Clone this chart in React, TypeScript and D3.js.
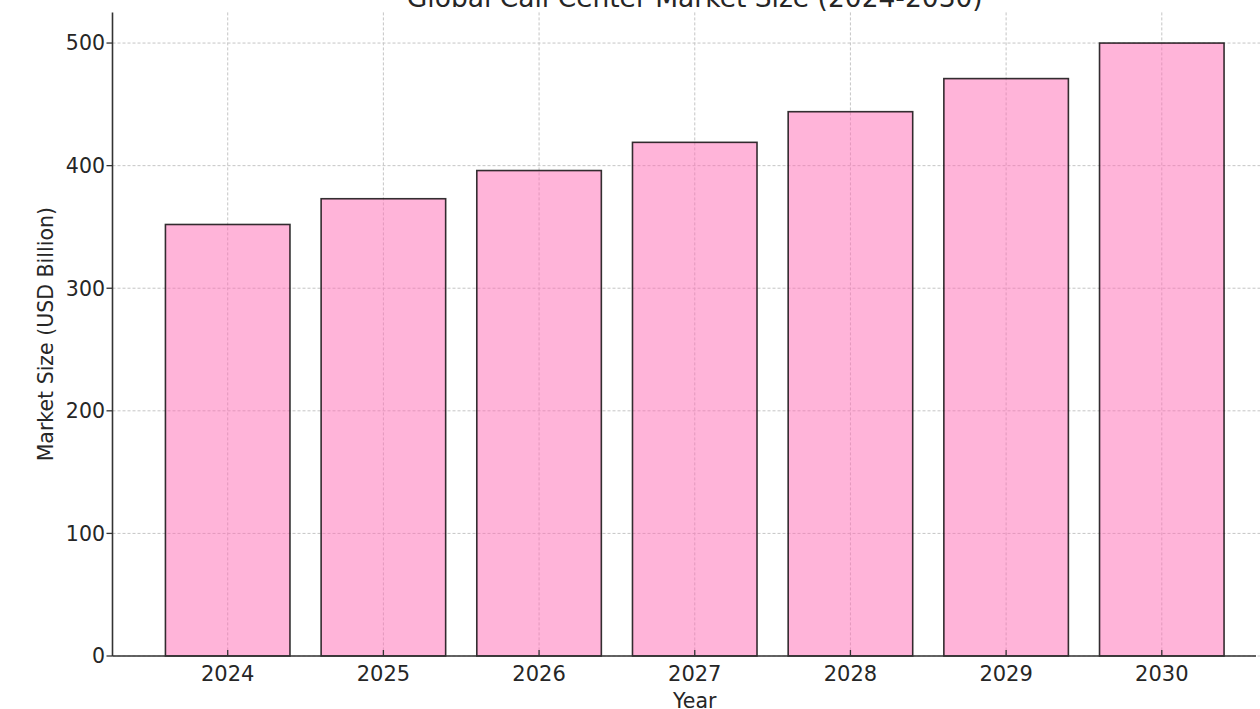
import React from "react";
import * as d3 from "d3";

const years: string[] = ["2024", "2025", "2026", "2027", "2028", "2029", "2030"];
const marketSize: number[] = [352, 373, 396, 419, 444, 471, 500];
const yTicks: number[] = [0, 100, 200, 300, 400, 500];

const W = 1260;
const H = 709;
const FONT = "DejaVu Sans, Verdana, sans-serif";

export default function App() {
  const left = 112.5;
  const right = 1277;
  const top = 12.4;
  const bottom = 656;
  const n = years.length;
  const barW = 0.8;
  const pad = (n - 1 + barW) * 0.05;
  const x = d3
    .scaleLinear()
    .domain([-barW / 2 - pad, n - 1 + barW / 2 + pad])
    .range([left, right]);
  const y = d3.scaleLinear().domain([0, 525]).range([bottom, top]);
  const bw = x(barW) - x(0);
  const cx = (left + right) / 2;
  const cy = (top + bottom) / 2;
  const textColor = "#262626";

  return (
    <svg
      width={W}
      height={H}
      style={{ position: "absolute", left: 0, top: 0, background: "#fff" }}
      fontFamily={FONT}
    >
      <rect x={0} y={0} width={W} height={H} fill="#fff" />
      {/* grid */}
      <g stroke="#b8b8b8" strokeWidth={1} strokeDasharray="3,2" opacity={0.8}>
        {yTicks.map((t) => (
          <line key={"gy" + t} x1={left} x2={W} y1={y(t)} y2={y(t)} />
        ))}
        {years.map((yr, i) => (
          <line key={"gx" + yr} x1={x(i)} x2={x(i)} y1={top} y2={bottom} />
        ))}
      </g>
      {/* bars */}
      <g>
        {marketSize.map((v, i) => (
          <rect
            key={years[i]}
            x={x(i) - bw / 2}
            y={y(v)}
            width={bw}
            height={y(0) - y(v)}
            fill="hotpink"
            fillOpacity={0.5}
            stroke="#000"
            strokeOpacity={0.8}
            strokeWidth={1.6}
          />
        ))}
      </g>
      {/* spines */}
      <line x1={left} x2={left} y1={top} y2={bottom} stroke="#333" strokeWidth={1.6} />
      <line x1={left} x2={1256} y1={bottom} y2={bottom} stroke="#333" strokeWidth={1.6} />
      {/* y ticks */}
      {yTicks.map((t) => (
        <g key={"yt" + t}>
          <line x1={left - 6} x2={left} y1={y(t)} y2={y(t)} stroke="#333" strokeWidth={1.3} />
          <text
            x={105}
            y={y(t)}
            dy="0.36em"
            textAnchor="end"
            fontSize={20.5}
            fill={textColor}
          >
            {t}
          </text>
        </g>
      ))}
      {/* x ticks */}
      {years.map((yr, i) => (
        <g key={"xt" + yr}>
          <line x1={x(i)} x2={x(i)} y1={bottom - 6} y2={bottom} stroke="#333" strokeWidth={1.3} />
          <text x={x(i)} y={680.5} textAnchor="middle" fontSize={21} fill={textColor}>
            {yr}
          </text>
        </g>
      ))}
      {/* axis labels */}
      <text x={cx} y={707.5} textAnchor="middle" fontSize={20.5} fill={textColor}>
        Year
      </text>
      <text
        transform={`translate(52.5,${cy}) rotate(-90)`}
        textAnchor="middle"
        fontSize={20.5}
        fill={textColor}
      >
        Market Size (USD Billion)
      </text>
      {/* title (cropped at top) */}
      <text x={cx} y={7} textAnchor="middle" fontSize={26.5} fill={textColor}>
        Global Call Center Market Size (2024-2030)
      </text>
    </svg>
  );
}
